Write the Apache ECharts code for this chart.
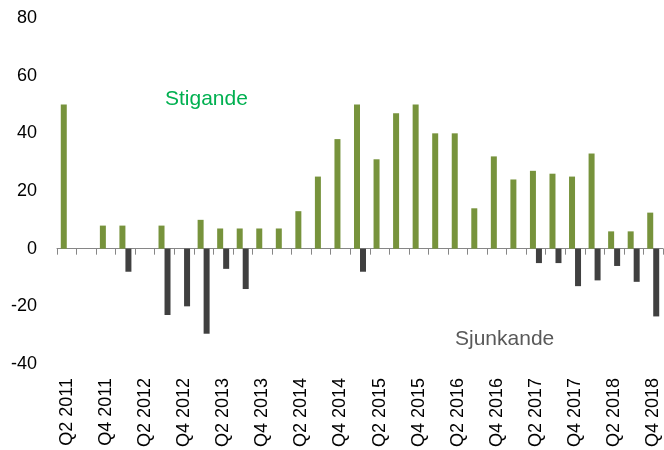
<!DOCTYPE html>
<html>
<head>
<meta charset="utf-8">
<script src="https://cdn.jsdelivr.net/npm/echarts@6/dist/echarts.min.js"></script>
<style>
  html, body { margin: 0; padding: 0; background: #fff; }
  #chart { width: 664px; height: 450px; }
</style>
</head>
<body>
<div id="chart"></div>
<script>
// kvartal Q2 2011 - Q4 2018
const quarters = [
  'Q2 2011', 'Q3 2011', 'Q4 2011', 'Q1 2012', 'Q2 2012', 'Q3 2012', 'Q4 2012', 'Q1 2013',
  'Q2 2013', 'Q3 2013', 'Q4 2013', 'Q1 2014', 'Q2 2014', 'Q3 2014', 'Q4 2014', 'Q1 2015',
  'Q2 2015', 'Q3 2015', 'Q4 2015', 'Q1 2016', 'Q2 2016', 'Q3 2016', 'Q4 2016', 'Q1 2017',
  'Q2 2017', 'Q3 2017', 'Q4 2017', 'Q1 2018', 'Q2 2018', 'Q3 2018', 'Q4 2018'
];
const stigande = [
  50, 0, 8, 8, 0, 8, 0, 10,
  7, 7, 7, 7, 13, 25, 38, 50,
  31, 47, 50, 40, 40, 14, 32, 24,
  27, 26, 25, 33, 6, 6, 12.5
];
const sjunkande = [
  0, 0, 0, -8, 0, -23, -20, -29.5,
  -7, -14, 0, 0, 0, 0, 0, -8,
  0, 0, 0, 0, 0, 0, 0, 0,
  -5, -5, -13, -11, -6, -11.5, -23.5
];
const yTicks = { min: -40, max: 80, interval: 20 };

const font = '"Liberation Sans", Arial, sans-serif';
let myChart = echarts.init(document.getElementById('chart'));

var option = {
  animation: false,
  grid: { left: 57, right: 1, top: 18, bottom: 86, containLabel: false, outerBoundsMode: 'none' },
  xAxis: {
    type: 'category',
    data: quarters,
    axisLine: { onZero: true, lineStyle: { color: '#868686', width: 1 } },
    axisTick: { show: true, interval: 0, length: 6, lineStyle: { color: '#868686' } },
    axisLabel: {
      interval: 1,
      rotate: 90,
      margin: 14,
      fontSize: 18,
      fontFamily: font,
      color: '#000'
    },
    splitLine: { show: false }
  },
  yAxis: {
    type: 'value',
    min: yTicks.min,
    max: yTicks.max,
    interval: yTicks.interval,
    axisLine: { show: false },
    axisTick: { show: false },
    splitLine: { show: false },
    axisLabel: { margin: 20, fontSize: 18, fontFamily: font, color: '#000' }
  },
  graphic: [
    {
      type: 'text', left: 165, top: 89,
      style: { text: 'Stigande', fill: '#00B050', font: '21px ' + font }
    },
    {
      type: 'text', left: 455, top: 329,
      style: { text: 'Sjunkande', fill: '#595959', font: '21px ' + font }
    }
  ],
  series: [
    {
      name: 'Stigande',
      type: 'bar',
      data: stigande,
      barWidth: 6,
      barGap: '0%',
      itemStyle: { color: '#77933C' }
    },
    {
      name: 'Sjunkande',
      type: 'bar',
      data: sjunkande,
      barWidth: 6,
      barGap: '0%',
      itemStyle: { color: '#404040' }
    }
  ]
};

myChart.setOption(option);
</script>
</body>
</html>
